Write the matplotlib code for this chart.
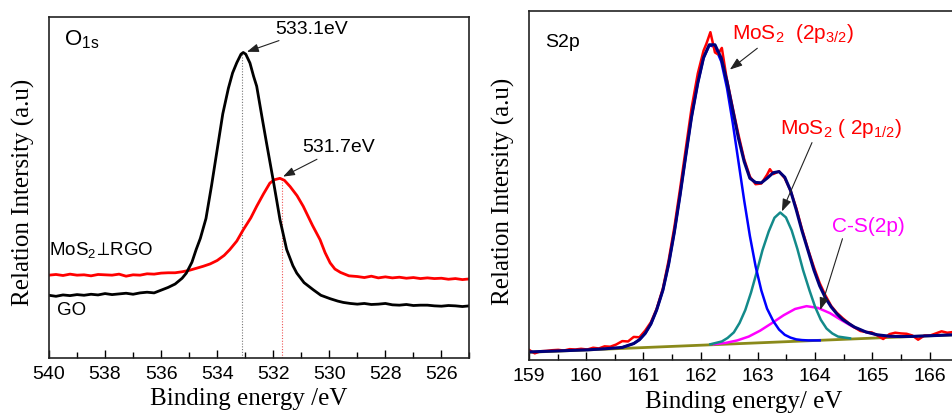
import matplotlib
matplotlib.use("Agg")
import matplotlib.pyplot as plt
from matplotlib.ticker import MultipleLocator

plt.rcParams['font.family'] = ['Liberation Sans', 'DejaVu Sans']
plt.rcParams['mathtext.default'] = 'regular'

#%% O1s panel data (binding energy, relative intensity)
go_x = [540.0, 539.75, 539.5, 539.25, 539.0, 538.75, 538.5, 538.25, 538.0, 537.75,
        537.5, 537.25, 537.0, 536.75, 536.5, 536.25, 536.0, 535.75, 535.5, 535.25,
        535.1, 534.9, 534.75, 534.6, 534.4, 534.2, 534.0, 533.8, 533.6, 533.45,
        533.3, 533.15, 533.07, 532.98, 532.83, 532.7, 532.59, 532.4, 532.24, 532.0,
        531.88, 531.76, 531.52, 531.3, 531.16, 530.9, 530.57, 530.3, 529.97, 529.7,
        529.5, 529.25, 529.0, 528.75, 528.5, 528.25, 528.0, 527.75, 527.5, 527.25,
        527.0, 526.75, 526.5, 526.25, 526.0, 525.75, 525.5, 525.25, 525.0]
go_y = [18.3, 18.0, 18.4, 18.2, 18.5, 18.3, 18.6, 18.4, 18.8, 18.5,
        18.7, 18.9, 18.6, 19.0, 19.2, 19.0, 19.8, 20.6, 21.6, 23.3,
        24.8, 28.0, 31.7, 35.0, 40.8, 50.5, 61.0, 71.5, 79.0, 83.5,
        86.5, 89.0, 89.5, 89.0, 86.4, 82.5, 79.6, 70.5, 63.0, 52.0,
        46.3, 40.5, 31.7, 27.0, 24.8, 22.0, 19.9, 18.3, 17.3, 16.6,
        16.2, 15.9, 15.7, 15.9, 15.6, 15.7, 15.9, 15.5, 15.4, 15.6,
        15.3, 15.4, 15.4, 15.2, 15.1, 15.3, 15.2, 15.0, 15.2]

rgo_x = [540.0, 539.75, 539.5, 539.25, 539.0, 538.75, 538.5, 538.25, 538.0, 537.75,
         537.5, 537.25, 537.0, 536.75, 536.5, 536.25, 536.0, 535.75, 535.5, 535.25,
         535.0, 534.75, 534.5, 534.25, 534.0, 533.75, 533.55, 533.3, 533.07, 532.8,
         532.59, 532.35, 532.12, 531.95, 531.76, 531.6, 531.4, 531.15, 530.93, 530.6,
         530.33, 530.15, 529.97, 529.8, 529.6, 529.3, 529.0, 528.75, 528.5, 528.25,
         528.0, 527.75, 527.5, 527.25, 527.0, 526.75, 526.5, 526.25, 526.0, 525.75,
         525.5, 525.25, 525.0]
rgo_y = [24.2, 24.4, 24.1, 24.5, 24.2, 24.3, 24.0, 24.4, 24.3, 24.2,
         24.5, 23.9, 24.3, 24.2, 24.6, 24.5, 24.8, 24.9, 24.9, 25.2,
         25.6, 26.2, 26.8, 27.5, 28.5, 30.0, 31.7, 34.2, 37.5, 41.0,
         44.4, 48.0, 51.2, 52.2, 52.6, 52.0, 50.2, 47.5, 44.4, 38.8,
         34.6, 30.8, 27.8, 26.0, 25.0, 24.0, 23.8, 23.5, 23.9, 23.4,
         23.7, 23.4, 23.6, 23.3, 23.5, 23.2, 23.4, 23.2, 23.3, 23.0,
         23.2, 22.9, 23.1]

o1s_peaks = [533.1, 531.7]
o1s_peak_heights = [89.5, 52.4]

#%% S2p panel data
raw_x = [159.0, 159.1, 159.2, 159.3, 159.41, 159.51, 159.61, 159.71, 159.81, 159.91,
         160.02, 160.12, 160.22, 160.32, 160.42, 160.52, 160.63, 160.73, 160.83, 160.93,
         161.03, 161.13, 161.23, 161.34, 161.44, 161.54, 161.64, 161.74, 161.84, 161.95,
         162.05, 162.10, 162.17, 162.25, 162.30, 162.37, 162.45, 162.55, 162.66, 162.76,
         162.86, 162.96, 163.06, 163.16, 163.21, 163.27, 163.37, 163.47, 163.57, 163.67,
         163.77, 163.88, 163.98, 164.08, 164.18, 164.28, 164.38, 164.48, 164.59, 164.69,
         164.79, 164.89, 164.99, 165.09, 165.19, 165.30, 165.40, 165.50, 165.60, 165.70,
         165.80, 165.91, 166.01, 166.11, 166.21, 166.31, 166.41]
raw_y = [2.9, 1.9, 2.5, 2.6, 2.8, 2.9, 2.7, 3.1, 3.0, 3.2,
         3.0, 3.5, 3.3, 3.9, 3.8, 4.4, 5.4, 5.3, 6.6, 6.5,
         8.4, 10.8, 14.6, 20.5, 28.5, 38.0, 49.0, 60.5, 72.0, 82.0,
         88.5, 90.5, 93.8, 88.0, 87.5, 89.3, 81.0, 73.0, 64.5, 57.5,
         52.5, 50.3, 50.5, 53.0, 54.6, 53.2, 54.0, 52.0, 48.5, 43.5,
         37.5, 31.5, 26.5, 22.0, 18.5, 15.5, 13.5, 12.0, 10.5, 9.3,
         8.3, 8.0, 7.9, 7.0, 6.0, 7.4, 7.8, 7.6, 7.5, 7.0,
         5.8, 7.0, 7.0, 7.6, 8.2, 7.8, 8.0]

fit_x = [159.0, 159.51, 160.02, 160.32, 160.63, 160.83, 160.93, 161.03, 161.13, 161.23,
         161.34, 161.44, 161.54, 161.64, 161.74, 161.84, 161.95, 162.05, 162.15, 162.25,
         162.36, 162.46, 162.56, 162.66, 162.76, 162.86, 162.96, 163.06, 163.16, 163.27,
         163.37, 163.47, 163.57, 163.67, 163.77, 163.88, 163.98, 164.08, 164.18, 164.28,
         164.38, 164.48, 164.59, 164.69, 164.89, 165.09, 165.30, 165.50, 165.70, 166.11, 166.41]
fit_y = [2.3, 2.6, 2.9, 3.2, 3.6, 4.7, 5.8, 7.6, 10.3, 14.3,
         20.0, 27.4, 36.6, 47.2, 58.5, 69.5, 79.3, 86.5, 90.2, 90.2,
         86.4, 79.7, 71.6, 63.5, 56.8, 52.0, 50.8, 50.7, 52.0, 53.6,
         53.9, 52.3, 48.5, 43.0, 37.0, 31.1, 25.7, 21.2, 17.8, 15.2,
         13.2, 11.6, 10.4, 9.4, 8.0, 7.2, 6.8, 6.7, 6.75, 7.0, 7.2]

p32_x = [160.63, 160.83, 160.93, 161.03, 161.13, 161.23, 161.34, 161.44, 161.54, 161.64,
         161.74, 161.84, 161.95, 162.05, 162.15, 162.25, 162.36, 162.46, 162.56, 162.66,
         162.76, 162.86, 162.96, 163.06, 163.16, 163.27, 163.37, 163.47, 163.57, 163.67,
         163.77, 163.88, 164.08]
p32_y = [3.6, 4.7, 5.8, 7.6, 10.3, 14.3, 20.0, 27.4, 36.6, 47.2,
         58.5, 69.5, 79.3, 86.4, 90.0, 89.7, 85.4, 77.8, 67.9, 56.8,
         45.7, 35.5, 26.8, 19.9, 14.7, 11.1, 8.7, 7.2, 6.4, 5.9,
         5.7, 5.6, 5.6]

p12_x = [162.17, 162.37, 162.47, 162.58, 162.68, 162.78, 162.88, 162.98, 163.08, 163.19,
         163.29, 163.39, 163.49, 163.59, 163.69, 163.79, 163.90, 164.00, 164.10, 164.20,
         164.30, 164.40, 164.61]
p12_y = [4.5, 5.3, 6.3, 7.9, 10.6, 14.3, 19.3, 25.2, 31.4, 36.8,
         40.7, 42.2, 40.8, 37.1, 31.8, 25.7, 20.0, 15.2, 11.5, 9.0,
         7.6, 6.7, 6.2]

cs_x = [162.23, 162.44, 162.64, 162.84, 163.04, 163.24, 163.45, 163.65, 163.85, 164.05,
        164.26, 164.46, 164.66, 164.87, 165.07, 165.27, 165.48]
cs_y = [4.5, 4.9, 5.6, 6.7, 8.4, 10.5, 12.8, 14.6, 15.4, 14.9,
        13.4, 11.4, 9.5, 8.1, 7.2, 6.8, 6.7]

bg_x = [159.0, 166.41]
bg_y = [2.2, 7.2]

#%% figure
fig = plt.figure(figsize=(9.53, 4.18), dpi=100)
ax1 = fig.add_axes([0.0514, 0.1443, 0.4412, 0.8158])
ax2 = fig.add_axes([0.5551, 0.1388, 0.4449, 0.836])

arrow = dict(arrowstyle='-|>,head_length=0.5,head_width=0.18', color='#222222',
             lw=0.8, shrinkA=0, shrinkB=0)

# left: O1s
ax1.plot(o1s_peaks[:1] * 2, [0, o1s_peak_heights[0]], color='#777777', lw=0.8,
         ls=(0, (1, 1.5)))
ax1.plot(o1s_peaks[1:] * 2, [0, o1s_peak_heights[1]], color='#ee5555', lw=0.8,
         ls=(0, (1, 1.5)))
ax1.plot(rgo_x, rgo_y, color='#ff0000', lw=2.0)
ax1.plot(go_x, go_y, color='#000000', lw=2.0)

ax1.set_xlim(540, 525)
ax1.set_ylim(0, 100)
ax1.text(539.45, 91.5, 'O$_{1s}$', fontsize=16)
ax1.text(540.0, 30.0, r'MoS$_2\!\perp\!$RGO', fontsize=13.5)
ax1.text(539.7, 12.6, 'GO', fontsize=13.5)
ax1.annotate('533.1eV', xy=(532.94, 89.7), xytext=(531.94, 93.8), fontsize=14,
             va='bottom', arrowprops=arrow)
ax1.annotate('531.7eV', xy=(531.65, 53.1), xytext=(530.95, 59.0), fontsize=14,
             va='bottom', arrowprops=arrow)

ax1.xaxis.set_major_locator(MultipleLocator(2))
ax1.xaxis.set_minor_locator(MultipleLocator(1))
ax1.set_xlabel('Binding energy /eV', family='Liberation Serif', fontsize=18)
ax1.set_ylabel('Relation Intersity (a.u)', family='Liberation Serif', fontsize=18)
ax1.xaxis.set_label_coords(0.476, -0.088)
ax1.yaxis.set_label_coords(-0.033, 0.485)

# right: S2p
ax2.plot(bg_x, bg_y, color='#8a8a1a', lw=2.0)
ax2.plot(cs_x, cs_y, color='#ff00ff', lw=1.8)
ax2.plot(p12_x, p12_y, color='#138a8a', lw=1.8)
ax2.plot(p32_x, p32_y, color='#0000ff', lw=1.8)
ax2.plot(raw_x, raw_y, color='#ff0000', lw=1.8)
ax2.plot(fit_x, fit_y, color='#00007a', lw=2.2)

ax2.set_xlim(159, 166.41)
ax2.set_ylim(0, 100)
ax2.text(159.28, 89.5, 'S2p', fontsize=14)
ax2.annotate('MoS$_2$  (2p$_{3/2}$)', xy=(162.51, 83.1), xytext=(162.54, 90.0),
             fontsize=15, color='#ff0000', va='bottom',
             arrowprops=dict(arrow, relpos=(0.24, 0.0)))
ax2.annotate('MoS$_2$ ( 2p$_{1/2}$)', xy=(163.42, 42.5), xytext=(163.39, 63.0),
             fontsize=15, color='#ff0000', va='bottom',
             arrowprops=dict(arrow, relpos=(0.27, 0.0)))
ax2.annotate('C-S(2p)', xy=(164.09, 14.3), xytext=(164.29, 35.5),
             fontsize=15, color='#ff00ff', va='bottom',
             arrowprops=dict(arrow, relpos=(0.16, 0.0)))

ax2.xaxis.set_major_locator(MultipleLocator(1))
ax2.xaxis.set_minor_locator(MultipleLocator(0.5))
ax2.set_xlabel('Binding energy/ eV', family='Liberation Serif', fontsize=18)
ax2.set_ylabel('Relation Intersity (a.u)', family='Liberation Serif', fontsize=18)
ax2.xaxis.set_label_coords(0.507, -0.088)
ax2.yaxis.set_label_coords(-0.033, 0.483)

for ax in (ax1, ax2):
    ax.set_yticks([])
    ax.tick_params(axis='x', which='both', direction='in', top=False, labelsize=14, pad=6)
    ax.tick_params(axis='x', which='major', length=6, width=1.0)
    ax.tick_params(axis='x', which='minor', length=4, width=1.0)
    for s in ax.spines.values():
        s.set_linewidth(1.2)
        s.set_color('#222222')

fig.savefig('out.png', dpi=100)
